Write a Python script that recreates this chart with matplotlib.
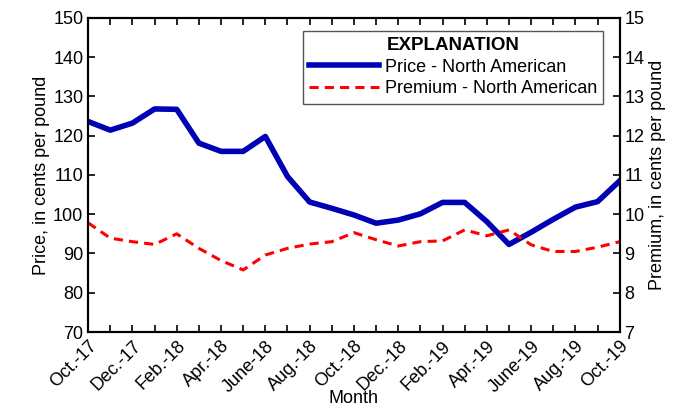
import matplotlib.pyplot as plt
from matplotlib.ticker import MultipleLocator

plt.rcParams['font.family'] = ['Liberation Sans', 'DejaVu Sans']

months = ["Oct.-17", "Nov.-17", "Dec.-17", "Jan.-18", "Feb.-18", "Mar.-18", "Apr.-18",
          "May-18", "June-18", "July-18", "Aug.-18", "Sep.-18", "Oct.-18", "Nov.-18",
          "Dec.-18", "Jan.-19", "Feb.-19", "Mar.-19", "Apr.-19", "May-19", "June-19",
          "July-19", "Aug.-19", "Sep.-19", "Oct.-19"]
price = [123.6, 121.4, 123.2, 126.8, 126.7, 118.1, 116.0, 116.0, 119.8, 109.6, 103.1,
         101.5, 99.8, 97.7, 98.5, 100.1, 103.0, 103.0, 98.1, 92.3, 95.4, 98.7, 101.8,
         103.2, 108.5]
premium = [9.78, 9.39, 9.30, 9.23, 9.50, 9.13, 8.82, 8.58, 8.96, 9.13, 9.24, 9.30,
           9.53, 9.35, 9.19, 9.30, 9.32, 9.60, 9.45, 9.60, 9.22, 9.05, 9.05, 9.16, 9.30]

x = list(range(len(months)))

fig = plt.figure(figsize=(6.94, 4.15), dpi=100)
ax = fig.add_axes([0.127, 0.2, 0.766, 0.757])
ax2 = ax.twinx()

l1, = ax.plot(x, price, color="#0000b4", linewidth=4, label="Price - North American")
l2, = ax2.plot(x, premium, color="#ff0000", linewidth=2.2, linestyle=(0, (3, 2)),
               label="Premium - North American")

ax.set_xlim(0, 24)
ax.set_ylim(70, 150)
ax2.set_ylim(7, 15)
ax.set_xticks(x[::2])
ax.set_xticklabels(months[::2], rotation=45, ha="right", rotation_mode="anchor", fontsize=13)
ax.xaxis.set_minor_locator(MultipleLocator(1))
ax.yaxis.set_major_locator(MultipleLocator(10))
ax2.yaxis.set_major_locator(MultipleLocator(1))

ax.tick_params(axis="x", which="both", direction="in", length=5, top=True, width=1.2)
ax.tick_params(axis="y", direction="in", length=5, labelsize=13, width=1.2)
ax2.tick_params(axis="y", direction="in", length=5, labelsize=13, width=1.2)
ax.tick_params(axis="x", labelsize=13, pad=4)

for a in (ax, ax2):
    for s in a.spines.values():
        s.set_linewidth(1.5)

ax.set_xlabel("Month", fontsize=13, labelpad=-4)
ax.set_ylabel("Price, in cents per pound", fontsize=13, labelpad=2)
ax2.set_ylabel("Premium, in cents per pound", fontsize=13, labelpad=3)

leg = ax2.legend(handles=[l1, l2], title="EXPLANATION", loc="upper right",
                 bbox_to_anchor=(0.976, 0.97), fontsize=13, fancybox=False,
                 edgecolor="#555555", framealpha=1, handlelength=3.9,
                 borderpad=0.35, labelspacing=0.25, handletextpad=0.3,
                 borderaxespad=0.2)
leg.get_title().set_fontweight("bold")
leg.get_title().set_fontsize(13.5)
leg.get_frame().set_linewidth(1)

fig.savefig("out.png", dpi=100)
